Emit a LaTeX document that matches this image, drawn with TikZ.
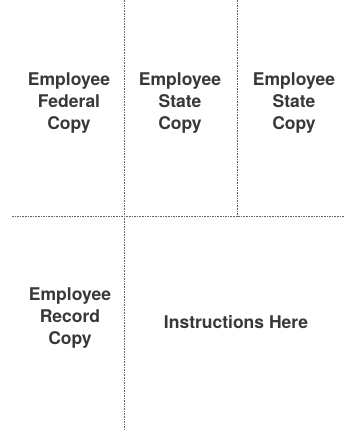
\documentclass[tikz,border=0pt]{standalone}
\usepackage{fontspec}
\setmainfont{TeX Gyre Heros}
\begin{document}
\begin{tikzpicture}[x=1pt,y=-1pt,
cut/.style={draw=black!60,line width=0.9pt,dash pattern=on 1.6pt off 1pt},
copybox/.style={align=center,inner sep=0,font=\fontsize{17.5}{22}\selectfont\bfseries,text=black!78}]
\useasboundingbox (0,0) rectangle (344,433);
% fold lines
\coordinate (ltop) at (124,0);
\coordinate (lbot) at (124,430);
\coordinate (rtop) at (237,0);
\coordinate (rbot) at (237,216);
\coordinate (hl) at (12,216);
\coordinate (hr) at (344,216);
\draw[cut] (ltop) -- (lbot);
\draw[cut] (rtop) -- (rbot);
\draw[cut] (hl) -- (hr);
% copies
\node[copybox] (fed) at (69,103) {Employee\\Federal\\Copy};
\node[copybox] (st1) at (180,103) {Employee\\State\\Copy};
\node[copybox] (st2) at (294,103) {Employee\\State\\Copy};
\node[copybox] (rec) at (70,318) {Employee\\Record\\Copy};
\node[copybox] (instr) at (236,322) {Instructions Here};
\end{tikzpicture}
\end{document}
